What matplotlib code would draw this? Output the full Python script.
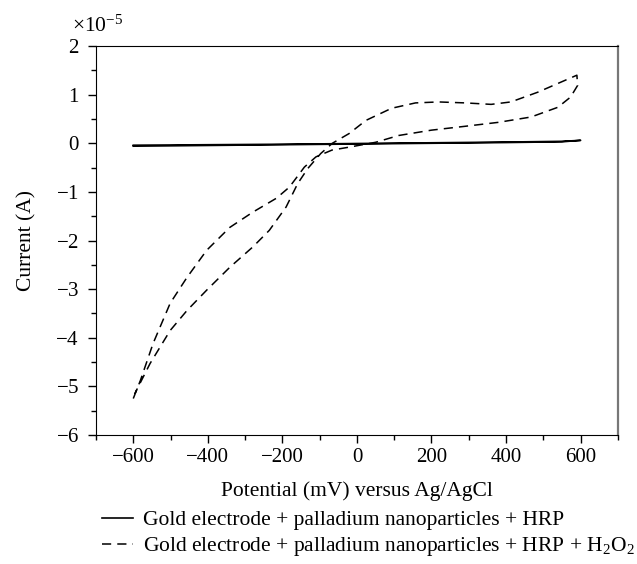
import matplotlib
matplotlib.use("Agg")
import matplotlib.pyplot as plt
import numpy as np
from matplotlib.ticker import ScalarFormatter, MultipleLocator

plt.rcParams['font.family'] = ['Liberation Serif', 'DejaVu Serif']
plt.rcParams['mathtext.fontset'] = 'custom'
plt.rcParams['mathtext.rm'] = 'Liberation Serif'
plt.rcParams['mathtext.it'] = 'Liberation Serif:italic'
plt.rcParams['font.size'] = 15.5

# current values in units of 1e-5 A, potentials in mV
# solid: without H2O2 (thin loop)
hrp_e = [-600, -400, -200, 0, 200, 400, 550, 600,
         550, 400, 200, 0, -200, -400, -600]
hrp_i = [-0.06, -0.045, -0.03, -0.015, 0.0, 0.015, 0.03, 0.06,
         0.04, 0.025, 0.01, -0.005, -0.02, -0.03, -0.04]

# dashed: with H2O2
h2o2_e = [-600, -581, -547, -501, -456, -403, -341, -280, -216, -181, -141,
          -110, -67, -21, 50, 112, 200, 291, 379, 467, 539, 573, 592,
          590, 539, 485, 413, 360, 291, 219, 157, 93, 24, -21, -66, -97,
          -132, -159, -190, -235, -279, -341, -403, -456, -501, -555, -596]
h2o2_i = [-5.25, -4.88, -4.12, -3.29, -2.76, -2.20, -1.73, -1.42, -1.13, -0.90, -0.49,
          -0.28, -0.14, -0.08, 0.02, 0.16, 0.27, 0.35, 0.43, 0.54, 0.74, 0.95, 1.19,
          1.40, 1.23, 1.05, 0.85, 0.80, 0.83, 0.85, 0.83, 0.72, 0.47, 0.20, 0.0, -0.21,
          -0.52, -0.83, -1.31, -1.79, -2.13, -2.55, -3.02, -3.44, -3.85, -4.53, -5.15]

labels = ['Gold electrode + palladium nanoparticles + HRP',
          'Gold electrode + palladium nanoparticles + HRP + H$_2$O$_2$']

fig = plt.figure(figsize=(6.37, 5.64), dpi=100)
ax = fig.add_axes([0.1507, 0.2287, 0.8193, 0.6897])

l1, = ax.plot(hrp_e, np.array(hrp_i) * 1e-5, color='black', lw=1.2)
l2, = ax.plot(h2o2_e, np.array(h2o2_i) * 1e-5, color='black', lw=1.1,
              dashes=(6, 4))

ax.set_xlim(-700, 700)
ax.set_ylim(-6e-5, 2e-5)
ax.xaxis.set_major_locator(MultipleLocator(200))
ax.xaxis.set_minor_locator(MultipleLocator(100))
ax.yaxis.set_major_locator(MultipleLocator(1e-5))
ax.yaxis.set_minor_locator(MultipleLocator(0.5e-5))
fmt = ScalarFormatter(useMathText=True)
fmt.set_powerlimits((0, 0))
ax.yaxis.set_major_formatter(fmt)
ax.yaxis.get_offset_text().set_visible(False)
fig.text(72 / 637, 1 - 32 / 564, '×10$^{\u22125}$', fontsize=15.5, va='baseline')

ax.tick_params(which='both', direction='out', top=False, right=False,
               labelsize=15)
ax.tick_params(axis='y', pad=6)
ax.tick_params(which='major', length=6, width=1)
ax.tick_params(which='minor', length=3.5, width=1)
ax.spines['right'].set_color('#777777')
ax.spines['right'].set_linewidth(1.6)

ax.set_xlabel('Potential (mV) versus Ag/AgCl', labelpad=10)
ax.set_ylabel('Current (A)', labelpad=14)

fig.legend([l1, l2], labels, loc='upper left',
           bbox_to_anchor=(102 / 637, 1 - 510 / 564), frameon=False,
           handlelength=1.45, handletextpad=0.47, labelspacing=0.25,
           borderaxespad=0, borderpad=0)

fig.savefig('out.png', dpi=100)
